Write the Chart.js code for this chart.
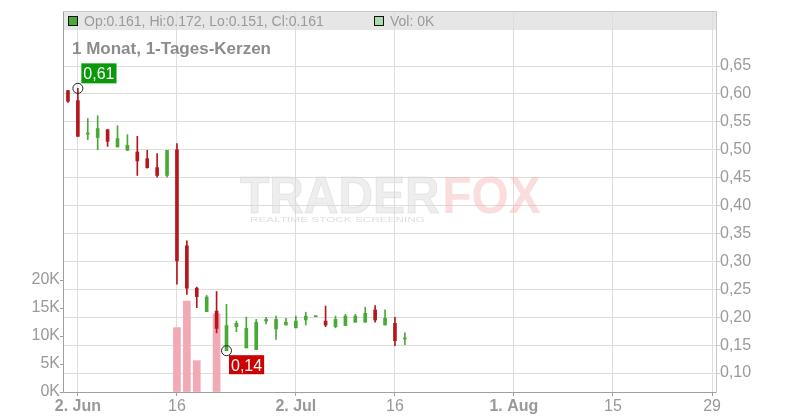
<!DOCTYPE html>
<html><head><meta charset="utf-8">
<script src="https://cdn.jsdelivr.net/npm/chart.js@4.4.0/dist/chart.umd.min.js"></script>
<style>html,body{margin:0;padding:0;background:#fff}#wrap{width:800px;height:420px}</style>
</head><body><div id="wrap"><canvas id="c" width="800" height="420"></canvas></div>
<script>
// ---- data (trading days; position 0 = 2. Jun) ----
const days = ['30.05.','02.06.','03.06.','04.06.','05.06.','06.06.','09.06.','10.06.','11.06.','12.06.','13.06.',
  '16.06.','17.06.','18.06.','19.06.','20.06.','23.06.','24.06.','25.06.','26.06.','27.06.','30.06.',
  '01.07.','02.07.','03.07.','04.07.','07.07.','08.07.','09.07.','10.07.','11.07.','14.07.','15.07.','16.07.','17.07.'];
const firstPos = -1;
const openP  = [0.606,0.588,0.528,0.522,0.536,0.505,0.499,0.496,0.484,0.468,0.454,
  0.500,0.328,0.252,0.210,0.211,0.140,0.183,0.145,0.142,0.193,0.179,
  0.186,0.181,0.195,0.201,0.193,0.183,0.185,0.191,0.191,0.213,0.186,0.189,0.161];
const highP  = [0.606,0.610,0.556,0.561,0.536,0.543,0.527,0.524,0.499,0.493,0.499,
  0.511,0.337,0.254,0.239,0.246,0.223,0.193,0.200,0.196,0.200,0.202,
  0.198,0.202,0.209,0.202,0.220,0.202,0.205,0.205,0.218,0.221,0.213,0.200,0.172];
const lowP   = [0.585,0.524,0.518,0.500,0.506,0.505,0.499,0.454,0.467,0.451,0.451,
  0.259,0.241,0.217,0.210,0.172,0.140,0.174,0.145,0.142,0.188,0.160,
  0.186,0.181,0.186,0.201,0.183,0.181,0.185,0.191,0.191,0.191,0.186,0.149,0.151];
const closeP = [0.587,0.524,0.530,0.538,0.515,0.520,0.508,0.480,0.468,0.454,0.499,
  0.301,0.252,0.237,0.236,0.180,0.185,0.189,0.180,0.191,0.196,0.196,
  0.191,0.193,0.202,0.202,0.186,0.196,0.202,0.202,0.207,0.195,0.198,0.158,0.161];
const volume = [0,0,0,0,0,0,0,0,0,0,0,
  11500,16250,5600,0,13950,0,0,0,0,0,0,
  0,0,0,0,0,0,0,0,0,0,0,0,0];
const xTickPos = [0,10,22,32,44,54,64];
const xTickLabels = ['2. Jun','16','2. Jul','16','1. Aug','15','29'];
const priceTicks = [0.10,0.15,0.20,0.25,0.30,0.35,0.40,0.45,0.50,0.55,0.60,0.65];
const volTicks = [0,5000,10000,15000,20000];
const headerText = 'Op:0.161, Hi:0.172, Lo:0.151, Cl:0.161';
const volText = 'Vol: 0K';
const titleText = '1 Monat, 1-Tages-Kerzen';

// ---- styles ----
const RED = '#b5171c', GREEN = '#49a935', PINK = '#f2a9b3', LGREEN = '#acdcac';
const FONT = 'Liberation Sans, Arial, sans-serif';
const AXC = '#a0a0a0';

const xs = days.map((d,i)=>i+firstPos);
const up = days.map((d,i)=>closeP[i] >= openP[i]);
const candleCol = up.map(u=>u?GREEN:RED);
const volCol = up.map(u=>u?LGREEN:PINK);

let hiI = 0, loI = 0;
highP.forEach((v,i)=>{ if (v > highP[hiI]) hiI = i; });
lowP.forEach((v,i)=>{ if (v < lowP[loI]) loI = i; });

const fmt = v => v.toFixed(2).replace('.', ',');

const deco = {
  id: 'deco',
  beforeDraw(chart) {
    const {ctx, chartArea: a} = chart;
    ctx.save();
    ctx.fillStyle = '#fff';
    ctx.fillRect(0,0,chart.width,chart.height);
    ctx.fillStyle = '#e6e6e6';
    ctx.fillRect(a.left, a.top, a.right-a.left, 19);
    ctx.restore();
  },
  beforeDatasetsDraw(chart) {
    const {ctx} = chart;
    ctx.save();
    ctx.textBaseline = 'alphabetic';
    ctx.font = 'bold 52px ' + FONT;
    const w1 = ctx.measureText('TRADER').width, w2 = ctx.measureText('FOX').width;
    const sx = 298 / (w1 + w2);
    ctx.translate(240, 213);
    ctx.scale(sx, 1);
    ctx.fillStyle = 'rgba(222,222,222,0.5)';
    ctx.fillText('TRADER', 0, 0);
    ctx.strokeStyle = 'rgba(200,200,200,0.35)';
    ctx.lineWidth = 1;
    ctx.strokeText('TRADER', 0, 0);
    ctx.fillStyle = 'rgba(242,175,175,0.42)';
    ctx.fillText('FOX', w1 + 3, 0);
    ctx.restore();
    ctx.save();
    ctx.font = '8px ' + FONT;
    ctx.fillStyle = 'rgba(200,200,200,0.6)';
    const sub = 'REALTIME STOCK SCREENING';
    const sw = ctx.measureText(sub).width;
    ctx.translate(250, 222);
    ctx.scale(175/sw, 1);
    ctx.fillText(sub, 0, 0);
    ctx.restore();
  },
  afterDraw(chart) {
    const {ctx, chartArea: a, scales} = chart;
    ctx.save();
    ctx.strokeStyle = '#c8c8c8';
    ctx.lineWidth = 1;
    ctx.beginPath(); ctx.moveTo(a.left, a.top+0.5); ctx.lineTo(a.right, a.top+0.5); ctx.stroke();
    ctx.fillStyle = GREEN; ctx.fillRect(68.5, 16.5, 9, 9);
    ctx.strokeStyle = '#111'; ctx.strokeRect(68.5, 16.5, 9, 9);
    ctx.fillStyle = LGREEN; ctx.fillRect(374.5, 16.5, 9, 9);
    ctx.strokeRect(374.5, 16.5, 9, 9);
    ctx.font = '14px ' + FONT;
    ctx.fillStyle = '#9a9a9a';
    ctx.textBaseline = 'alphabetic';
    ctx.fillText(headerText, 84, 26);
    ctx.fillText(volText, 390, 26);
    ctx.font = 'bold 17px ' + FONT;
    ctx.fillStyle = '#8c8c8c';
    ctx.fillText(titleText, 72, 54);
    const hx = scales.x.getPixelForValue(xs[hiI]), hy = scales.y.getPixelForValue(highP[hiI]);
    const lx = scales.x.getPixelForValue(xs[loI]), ly = scales.y.getPixelForValue(lowP[loI]);
    ctx.font = '16px ' + FONT;
    let t = fmt(highP[hiI]);
    let tw = ctx.measureText(t).width;
    ctx.fillStyle = '#0a990a';
    ctx.fillRect(hx+3.5, hy-25, tw+4, 20);
    ctx.fillStyle = '#fff';
    ctx.fillText(t, hx+5.5, hy-9);
    t = fmt(lowP[loI]);
    tw = ctx.measureText(t).width;
    ctx.fillStyle = '#cc0000';
    ctx.fillRect(lx+2.5, ly+4.5, tw+4, 19);
    ctx.fillStyle = '#fff';
    ctx.fillText(t, lx+4.5, ly+20);
    ctx.restore();
  }
};

new Chart(document.getElementById('c'), {
  type: 'bar',
  data: {
    datasets: [
      { label: 'Vol', yAxisID: 'yVol', order: 4, grouped: false, barThickness: 7,
        data: xs.map((x,i)=>({x, y: volume[i] > 0 ? volume[i] : null})), backgroundColor: volCol },
      { label: 'wick', yAxisID: 'y', order: 3, grouped: false, barThickness: 1,
        data: xs.map((x,i)=>({x, y: [lowP[i], highP[i]]})), backgroundColor: candleCol },
      { label: 'body', yAxisID: 'y', order: 2, grouped: false, barThickness: 3, minBarLength: 1,
        data: xs.map((x,i)=>({x, y: [openP[i], closeP[i]]})), backgroundColor: candleCol },
      { type: 'scatter', label: 'ext', yAxisID: 'y', order: 1,
        data: [{x: xs[hiI], y: highP[hiI]}, {x: xs[loI], y: lowP[loI]}],
        pointRadius: 5, pointBackgroundColor: 'rgba(0,0,0,0)', pointBorderColor: '#222', pointBorderWidth: 1 }
    ]
  },
  options: {
    responsive: false, animation: false, events: [],
    layout: { padding: { top: 11, left: 0, right: 0, bottom: 0 } },
    plugins: { legend: { display: false }, tooltip: { enabled: false } },
    scales: {
      x: {
        type: 'linear', min: -1.5, max: 64.4, offset: false,
        afterBuildTicks: s => { s.ticks = xTickPos.map(v=>({value: v})); },
        afterFit: s => { s.height = 28; },
        grid: { offset: false, color: '#dddddd', tickLength: 4, tickColor: AXC },
        border: { color: AXC },
        ticks: {
          padding: 1, color: '#999', maxRotation: 0, autoSkip: false,
          callback: (v, i) => xTickLabels[i],
          font: ctx => ({ family: FONT, size: 16, weight: (xTickLabels[ctx.index]||'').includes('.') ? 'bold' : 'normal' })
        }
      },
      y: {
        position: 'right', min: 0.066, max: 0.7486,
        afterBuildTicks: s => { s.ticks = priceTicks.map(v=>({value: v})); },
        afterFit: s => { s.width = 84; },
        grid: { color: '#dddddd', drawTicks: true, tickLength: 4, tickColor: '#ccc' },
        border: { color: '#c8c8c8' },
        ticks: { padding: 0, color: '#9a9a9a', font: { family: FONT, size: 16 }, callback: v => fmt(v) }
      },
      yVol: {
        position: 'left', min: 0, max: 68036,
        afterBuildTicks: s => { s.ticks = volTicks.map(v=>({value: v})); },
        afterFit: s => { s.width = 63; },
        grid: { drawOnChartArea: false, tickLength: 3, tickColor: AXC },
        border: { color: AXC },
        ticks: { padding: 0, color: '#9a9a9a', font: { family: FONT, size: 16 }, callback: v => (v/1000) + 'K' }
      }
    }
  },
  plugins: [deco]
});
</script>
</body></html>
